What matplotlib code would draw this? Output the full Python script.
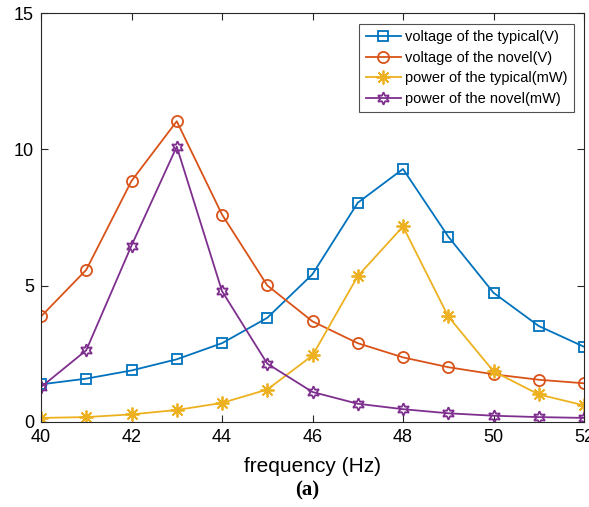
import matplotlib.pyplot as plt

plt.rcParams['font.family'] = ['Liberation Sans', 'DejaVu Sans']

# frequency (Hz)
freq = [40, 41, 42, 43, 44, 45, 46, 47, 48, 49, 50, 51, 52]
# values
volt_typical = [1.38, 1.59, 1.89, 2.30, 2.89, 3.82, 5.42, 8.04, 9.28, 6.80, 4.74, 3.52, 2.76]
volt_novel = [3.87, 5.58, 8.84, 11.03, 7.61, 5.01, 3.69, 2.89, 2.37, 2.01, 1.75, 1.55, 1.42]
power_typical = [0.15, 0.18, 0.28, 0.44, 0.70, 1.19, 2.44, 5.35, 7.17, 3.87, 1.86, 1.01, 0.61]
power_novel = [1.28, 2.63, 6.47, 10.10, 4.80, 2.14, 1.10, 0.67, 0.47, 0.32, 0.23, 0.18, 0.15]

labels = ['voltage of the typical(V)', 'voltage of the novel(V)',
          'power of the typical(mW)', 'power of the novel(mW)']

fig = plt.figure(figsize=(5.89, 5.07), dpi=100)
ax = fig.add_axes([41/589, 85/507, 543/589, 409/507])

ax.plot(freq, volt_typical, color='#0072BD', marker='s', mfc='none', ms=7, mew=1.3, lw=1.3, label=labels[0])
ax.plot(freq, volt_novel, color='#D95319', marker='o', mfc='none', ms=8, mew=1.3, lw=1.3, label=labels[1])
ax.plot(freq, power_typical, color='#EDB120', marker=(8, 2, 0), ms=10, mew=1.3, lw=1.3, label=labels[2])
ax.plot(freq, power_novel, color='#7E2F8E', marker=(6, 1, 0), mfc='none', ms=9, mew=1.3, lw=1.3, label=labels[3])

ax.set_xlim(40, 52)
ax.set_ylim(0, 15)
ax.set_xticks([40, 42, 44, 46, 48, 50, 52])
ax.set_yticks([0, 5, 10, 15])
ax.tick_params(direction='in', top=True, right=True, labelsize=13, length=5, width=0.8,
               color='#262626', labelcolor='#000000', pad=5)
for s in ax.spines.values():
    s.set_color('#262626')
    s.set_linewidth(0.8)

ax.set_xlabel('frequency (Hz)', fontsize=15, labelpad=8)

leg = ax.legend(loc='upper right', bbox_to_anchor=(0.99, 0.985), fontsize=10.5, frameon=True,
                fancybox=False, edgecolor='#262626', handlelength=2.4, borderpad=0.45,
                labelspacing=0.45, handletextpad=0.3, borderaxespad=0.3)
leg.get_frame().set_linewidth(0.8)

fig.text(307/589, 17/507, '(a)', ha='center', va='center', fontsize=15,
         fontweight='bold', family='Liberation Serif')

fig.savefig('out.png', dpi=100)
